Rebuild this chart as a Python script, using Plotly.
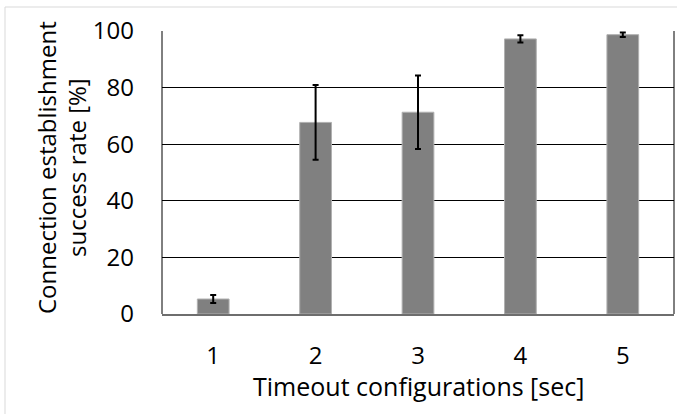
import plotly.graph_objects as go

categories = ["1", "2", "3", "4", "5"]
success_rate = [5.3, 67.7, 71.3, 97.2, 98.7]
error = [1.4, 13.2, 13.0, 1.3, 0.8]
y_ticks = [0, 20, 40, 60, 80, 100]
x_title = "Timeout configurations [sec]"
y_title_lines = ["Connection establishment", "success rate [%]"]

W, H = 677, 414
L, R, T, B = 162, 3, 31, 100
pw, ph = W - L - R, H - T - B


def px_x(p):
    return (p - L) / pw


def px_y(p):
    return (H - B - p) / ph


fig = go.Figure()
fig.add_trace(go.Bar(
    x=categories, y=success_rate,
    marker=dict(color="#808080", line=dict(color="#b0b0b0", width=1)),
    error_y=dict(type="data", array=error, visible=True, color="black", thickness=2, width=3),
))

font_family = "Open Sans, Noto Sans, sans-serif"
fig.update_layout(
    width=W, height=H,
    margin=dict(l=L, r=R, t=T, b=B, pad=0),
    paper_bgcolor="white", plot_bgcolor="white",
    bargap=0.69,
    showlegend=False,
    font=dict(family=font_family, size=24, color="black"),
    xaxis=dict(
        type="category", showgrid=False, showline=True, linecolor="#6e6e6e", linewidth=2,
        mirror=False, ticks="", ticklabelstandoff=19, automargin=False,
        tickfont=dict(size=24),
    ),
    yaxis=dict(
        range=[0, 100], tickvals=y_ticks, showgrid=True, gridcolor="black", gridwidth=1,
        zeroline=False, showline=False, ticks="", ticklabelstandoff=27, automargin=False,
        tickfont=dict(size=24),
    ),
    annotations=[
        dict(text=x_title, xref="paper", yref="paper", x=0.5, y=px_y(386),
             xanchor="center", yanchor="middle", showarrow=False, font=dict(size=25)),
        dict(text=y_title_lines[0], xref="paper", yref="paper", x=px_x(46), y=px_y(168),
             xanchor="center", yanchor="middle", textangle=-90, showarrow=False, font=dict(size=24)),
        dict(text=y_title_lines[1], xref="paper", yref="paper", x=px_x(76), y=px_y(168),
             xanchor="center", yanchor="middle", textangle=-90, showarrow=False, font=dict(size=24)),
    ],
    shapes=[
        dict(type="line", xref="paper", yref="paper", x0=0, x1=0, y0=0, y1=1, line=dict(color="black", width=1)),
        dict(type="line", xref="paper", yref="paper", x0=1, x1=1, y0=0, y1=1, line=dict(color="black", width=1)),
        dict(type="line", xref="paper", yref="paper", x0=px_x(5), x1=px_x(5), y0=px_y(414), y1=px_y(7),
             line=dict(color="#d9d9d9", width=1)),
        dict(type="line", xref="paper", yref="paper", x0=px_x(5), x1=px_x(677), y0=px_y(7), y1=px_y(7),
             line=dict(color="#d9d9d9", width=1)),
    ],
)

fig.write_html("out.html", config={"displayModeBar": False},
               post_script="document.body.style.margin='0';")
